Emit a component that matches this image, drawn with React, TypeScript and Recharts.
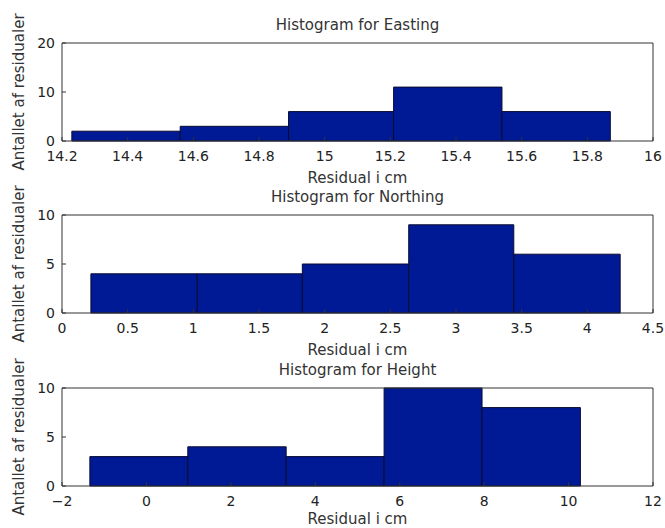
import React from "react";
import { ComposedChart, XAxis, YAxis, ReferenceArea, Line } from "recharts";

// bin edges and counts
const eastingEdges = [14.23, 14.56, 14.89, 15.21, 15.54, 15.87];
const eastingCounts = [2, 3, 6, 11, 6];
const eastingXTicks = [14.2, 14.4, 14.6, 14.8, 15, 15.2, 15.4, 15.6, 15.8, 16];
const eastingYTicks = [0, 10, 20];

const northingEdges = [0.22, 1.03, 1.83, 2.64, 3.44, 4.25];
const northingCounts = [4, 4, 5, 9, 6];
const northingXTicks = [0, 0.5, 1, 1.5, 2, 2.5, 3, 3.5, 4, 4.5];
const northingYTicks = [0, 5, 10];

const heightEdges = [-1.34, 0.98, 3.31, 5.63, 7.95, 10.28];
const heightCounts = [3, 4, 3, 10, 8];
const heightXTicks = [-2, 0, 2, 4, 6, 8, 10, 12];
const heightYTicks = [0, 5, 10];

const X_LABEL = "Residual i cm";
const Y_LABEL = "Antallet af residualer";

const BAR_FILL = "#001a96";
const BAR_EDGE = "#0a0a30";
const AXIS_COLOR = "#333";
const FONT = "'DejaVu Sans', sans-serif";

const tickStyle = { fontSize: 14, fill: "#222", fontFamily: FONT };
const labelStyle = { fontSize: 15, fill: "#333", fontFamily: FONT };

function fmt(v: number) {
  return String(v).replace("-", "\u2212");
}

type Props = {
  title: string;
  edges: number[];
  counts: number[];
  xTicks: number[];
  yTicks: number[];
  top: number;
  xLabelOffset?: number;
};

function Histogram({ title, edges, counts, xTicks, yTicks, top, xLabelOffset = 3 }: Props) {
  const xDomain: [number, number] = [xTicks[0], xTicks[xTicks.length - 1]];
  const yDomain: [number, number] = [yTicks[0], yTicks[yTicks.length - 1]];
  // one row per bin edge so the axes have something to hang on
  const rows = edges.map((e, i) => ({ x: e, n: i < counts.length ? counts[i] : 0 }));

  return (
    <div style={{ position: "absolute", left: 0, top }}>
      <ComposedChart width={665} height={186} margin={{ top: 42, right: 11, bottom: 0, left: 0 }} data={rows}>
        <XAxis
          type="number"
          dataKey="x"
          domain={xDomain}
          allowDataOverflow
          ticks={xTicks}
          interval={0}
          height={45}
          tickSize={-4}
          tickMargin={14}
          tick={tickStyle}
          tickFormatter={fmt}
          stroke={AXIS_COLOR}
          label={{ value: X_LABEL, position: "insideBottom", offset: xLabelOffset, style: labelStyle }}
        />
        <XAxis
          xAxisId="top"
          orientation="top"
          type="number"
          dataKey="x"
          domain={xDomain}
          allowDataOverflow
          ticks={xTicks}
          interval={0}
          height={1}
          tickSize={-4}
          tick={false}
          stroke={AXIS_COLOR}
          label={{ value: title, position: "top", offset: 12, style: labelStyle }}
        />
        <YAxis
          type="number"
          domain={yDomain}
          allowDataOverflow
          ticks={yTicks}
          interval={0}
          width={62}
          tickSize={-4}
          tickMargin={11}
          tick={tickStyle}
          stroke={AXIS_COLOR}
          label={{
            value: Y_LABEL,
            angle: -90,
            position: "insideLeft",
            offset: 19,
            style: { ...labelStyle, textAnchor: "middle" },
          }}
        />
        <YAxis
          yAxisId="right"
          orientation="right"
          type="number"
          domain={yDomain}
          allowDataOverflow
          ticks={yTicks}
          interval={0}
          width={1}
          tickSize={-4}
          tick={false}
          stroke={AXIS_COLOR}
        />
        <Line dataKey="n" stroke="none" dot={false} activeDot={false} isAnimationActive={false} />
        <Line
          dataKey="n"
          xAxisId="top"
          yAxisId="right"
          stroke="none"
          dot={false}
          activeDot={false}
          isAnimationActive={false}
        />
        {counts.map((c, i) => (
          <ReferenceArea
            key={i}
            x1={edges[i]}
            x2={edges[i + 1]}
            y1={0}
            y2={c}
            fill={BAR_FILL}
            fillOpacity={1}
            stroke={BAR_EDGE}
            strokeWidth={1}
          />
        ))}
      </ComposedChart>
    </div>
  );
}

export default function App() {
  return (
    <div style={{ position: "absolute", left: 0, top: 0, width: 665, height: 528, background: "#fff" }}>
      <Histogram title="Histogram for Easting" edges={eastingEdges} counts={eastingCounts} xTicks={eastingXTicks} yTicks={eastingYTicks} top={0} />
      <Histogram title="Histogram for Northing" edges={northingEdges} counts={northingCounts} xTicks={northingXTicks} yTicks={northingYTicks} top={172} />
      <Histogram
        title="Histogram for Height"
        edges={heightEdges}
        counts={heightCounts}
        xTicks={heightXTicks}
        yTicks={heightYTicks}
        top={345}
        xLabelOffset={7}
      />
    </div>
  );
}
